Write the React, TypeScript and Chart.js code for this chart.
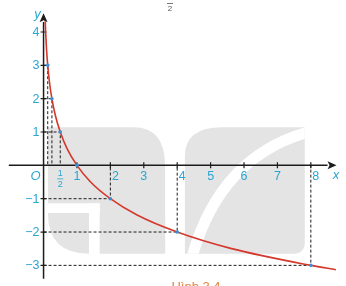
import React, { useEffect, useRef } from "react";
import { Chart, registerables } from "chart.js";

Chart.register(...registerables);

// Points read along the curve y = log_{1/2} x
const curveX = [0.05, 0.0625, 0.09, 0.125, 0.18, 0.25, 0.35, 0.5, 0.7, 1, 1.4, 2, 2.8, 4, 5.6, 8, 8.75];
const curveY = [4.32, 4, 3.47, 3, 2.47, 2, 1.51, 1, 0.51, 0, -0.49, -1, -1.49, -2, -2.49, -3, -3.13];

// Marked points with dashed projections onto the axes
const markX = [0.125, 0.25, 0.5, 1, 2, 4, 8];
const markY = [3, 2, 1, 0, -1, -2, -3];

// Axis ticks and their labels
const xTicks = [1, 2, 3, 4, 5, 6, 7, 8];
const xTickLabels = ["1", "2", "3", "4", "5", "6", "7", "8"];
const yTicks = [-3, -2, -1, 1, 2, 3, 4];
const yTickLabels = ["\u22123", "\u22122", "\u22121", "1", "2", "3", "4"];

const CYAN = "#2aa5d2";
const RED = "#d4382c";
const INK = "#1c1c1c";
const WATERMARK = "#e4e4e4";
const FONT = "'Liberation Sans', Arial, sans-serif";

const backdrop = {
  id: "backdrop",
  beforeDatasetsDraw(chart: any) {
    const { ctx, scales } = chart;
    const X = (v: number) => scales.x.getPixelForValue(v);
    const Y = (v: number) => scales.y.getPixelForValue(v);
    ctx.save();

    // logo watermark, left piece
    ctx.fillStyle = WATERMARK;
    ctx.beginPath();
    ctx.moveTo(X(0.13), Y(1.14));
    ctx.lineTo(X(2.7), Y(1.14));
    ctx.quadraticCurveTo(X(3.64), Y(1.14), X(3.64), Y(-0.03));
    ctx.lineTo(X(3.64), Y(-2.65));
    ctx.lineTo(X(1.36), Y(-2.65));
    ctx.quadraticCurveTo(X(0.13), Y(-2.65), X(0.13), Y(-1.43));
    ctx.closePath();
    ctx.fill();
    ctx.fillStyle = "#ffffff";
    ctx.fillRect(X(0.1), Y(-1.14), X(1.68) - X(0.1), Y(-1.43) - Y(-1.14));
    ctx.fillRect(X(1.36), Y(-1.14), X(1.68) - X(1.36), Y(-2.7) - Y(-1.14));

    // logo watermark, right leaf with its white vein
    ctx.fillStyle = WATERMARK;
    ctx.beginPath();
    ctx.moveTo(X(4.23), Y(0.26));
    ctx.quadraticCurveTo(X(4.23), Y(1.14), X(5.34), Y(1.14));
    ctx.lineTo(X(7.82), Y(1.14));
    ctx.lineTo(X(7.82), Y(-2.3));
    ctx.quadraticCurveTo(X(7.82), Y(-2.65), X(7.47), Y(-2.65));
    ctx.lineTo(X(4.23), Y(-2.65));
    ctx.closePath();
    ctx.fill();
    ctx.save();
    ctx.clip();
    ctx.strokeStyle = "#ffffff";
    ctx.lineWidth = 11;
    ctx.beginPath();
    ctx.moveTo(X(4.43), Y(-2.8));
    ctx.quadraticCurveTo(X(5.25), Y(0.23), X(7.88), Y(0.99));
    ctx.stroke();
    ctx.restore();

    // axes with arrowheads
    ctx.strokeStyle = INK;
    ctx.fillStyle = INK;
    ctx.lineWidth = 1.5;
    const x0 = X(0);
    const y0 = Y(0);
    ctx.beginPath();
    ctx.moveTo(X(-1.04), y0);
    ctx.lineTo(X(8.5), y0);
    ctx.moveTo(x0, Y(-3.4));
    ctx.lineTo(x0, Y(4.3));
    ctx.stroke();
    const xTip = X(8.77);
    ctx.beginPath();
    ctx.moveTo(xTip, y0);
    ctx.lineTo(xTip - 9, y0 - 4);
    ctx.lineTo(xTip - 7, y0);
    ctx.lineTo(xTip - 9, y0 + 4);
    ctx.closePath();
    ctx.fill();
    const yTip = Y(4.56);
    ctx.beginPath();
    ctx.moveTo(x0, yTip);
    ctx.lineTo(x0 - 4, yTip + 9);
    ctx.lineTo(x0, yTip + 7);
    ctx.lineTo(x0 + 4, yTip + 9);
    ctx.closePath();
    ctx.fill();

    // tick marks
    ctx.lineWidth = 1.2;
    ctx.beginPath();
    xTicks.forEach((v) => {
      ctx.moveTo(X(v), y0 - 3);
      ctx.lineTo(X(v), y0 + 3);
    });
    yTicks.forEach((v) => {
      ctx.moveTo(x0 - 3, Y(v));
      ctx.lineTo(x0 + 3, Y(v));
    });
    ctx.stroke();
    ctx.restore();
  },
  afterDatasetsDraw(chart: any) {
    const { ctx, scales } = chart;
    const X = (v: number) => scales.x.getPixelForValue(v);
    const Y = (v: number) => scales.y.getPixelForValue(v);
    const x0 = X(0);
    const y0 = Y(0);
    ctx.save();
    ctx.fillStyle = CYAN;
    ctx.textBaseline = "middle";
    ctx.font = `12.5px ${FONT}`;

    // x tick labels; those with a dashed guide sit right of it
    ctx.textAlign = "center";
    xTicks.forEach((v, i) => {
      const guided = markX.includes(v) && v !== 1;
      ctx.fillText(xTickLabels[i], X(v) + (guided ? 5 : 0), y0 + 11.5);
    });
    // y tick labels
    ctx.textAlign = "right";
    yTicks.forEach((v, i) => {
      ctx.fillText(yTickLabels[i], x0 - 4, Y(v) + 0.5);
    });

    // fraction 1/2 under the x-axis
    ctx.textAlign = "center";
    ctx.font = `9px ${FONT}`;
    const hx = X(0.5);
    ctx.fillText("1", hx, y0 + 8.5);
    ctx.fillText("2", hx, y0 + 19);
    ctx.strokeStyle = CYAN;
    ctx.lineWidth = 0.8;
    ctx.beginPath();
    ctx.moveTo(hx - 3, y0 + 13.5);
    ctx.lineTo(hx + 3, y0 + 13.5);
    ctx.stroke();

    // origin and axis names
    ctx.font = `italic 13px ${FONT}`;
    ctx.fillText("O", x0 - 8, y0 + 11);
    ctx.fillText("x", X(8.75), y0 + 10);
    ctx.fillText("y", x0 - 6, Y(4.55) + 1);

    // fragment of the preceding formula at the top edge
    ctx.fillStyle = "#555555";
    ctx.strokeStyle = "#555555";
    ctx.font = `8px ${FONT}`;
    ctx.fillText("2", 170, 9);
    ctx.beginPath();
    ctx.moveTo(167, 3.5);
    ctx.lineTo(173, 3.5);
    ctx.stroke();

    // figure caption, cut by the bottom edge
    ctx.fillStyle = "#e3843e";
    ctx.font = `13px ${FONT}`;
    ctx.textBaseline = "top";
    ctx.fillText("H\u00ecnh 3.4", 196, 281);
    ctx.restore();
  },
};

export default function App() {
  const ref = useRef<HTMLCanvasElement>(null);

  useEffect(() => {
    if (!ref.current) return;
    const guides = markX
      .map((x, i) => ({ x, y: markY[i] }))
      .filter((p) => p.y !== 0)
      .map((p) => ({
        data: [
          { x: 0, y: p.y },
          { x: p.x, y: p.y },
          { x: p.x, y: 0 },
        ],
        borderColor: INK,
        borderWidth: 1,
        borderDash: [3, 2],
        pointRadius: 0,
        tension: 0,
        order: 3,
      }));

    const chart = new Chart(ref.current, {
      type: "line",
      data: {
        datasets: [
          {
            data: markX.map((x, i) => ({ x, y: markY[i] })),
            showLine: false,
            pointRadius: 1.8,
            pointBackgroundColor: "#3b8fd4",
            pointBorderWidth: 0,
            order: 0,
          },
          {
            data: curveX.map((x, i) => ({ x, y: curveY[i] })),
            borderColor: RED,
            borderWidth: 1.6,
            pointRadius: 0,
            cubicInterpolationMode: "monotone",
            order: 1,
          },
          ...guides,
        ] as any,
      },
      options: {
        animation: false,
        responsive: false,
        devicePixelRatio: 1,
        layout: { padding: 0 },
        plugins: { legend: { display: false }, tooltip: { enabled: false } },
        events: [],
        scales: {
          x: { type: "linear", display: false, min: -1.184, max: 8.933 },
          y: { type: "linear", display: false, min: -3.499, max: 4.84 },
        },
      },
      plugins: [backdrop],
    });
    return () => chart.destroy();
  }, []);

  return (
    <div style={{ position: "fixed", left: 0, top: 0, width: 346, height: 286, background: "#fff" }}>
      <canvas ref={ref} width={346} height={286} />
    </div>
  );
}
